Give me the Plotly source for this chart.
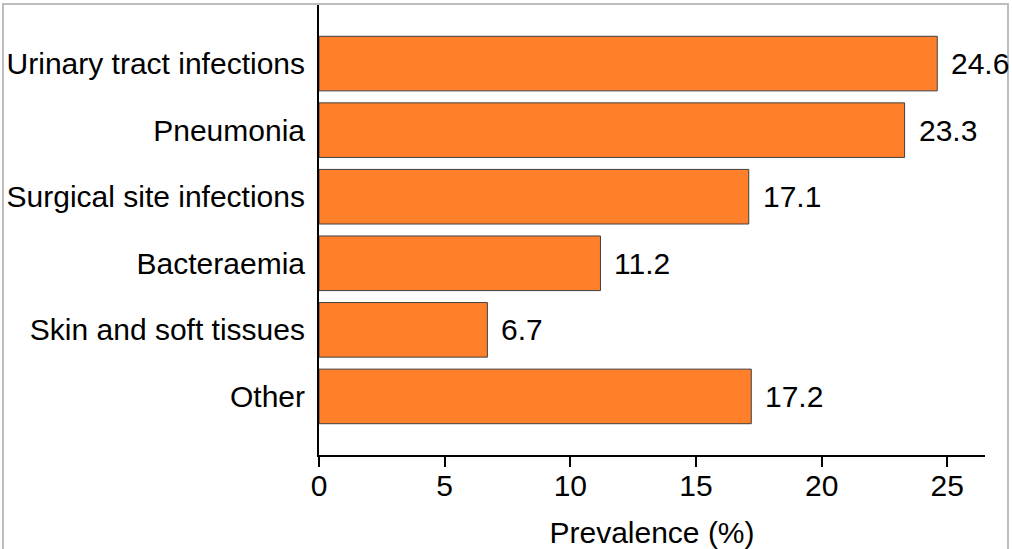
import plotly.graph_objects as go

categories = ["Urinary tract infections", "Pneumonia", "Surgical site infections",
              "Bacteraemia", "Skin and soft tissues", "Other"]
values = [24.6, 23.3, 17.1, 11.2, 6.7, 17.2]
value_labels = ["24.6", "23.3", "17.1", "11.2", "6.7", "17.2"]
x_ticks = [0, 5, 10, 15, 20, 25]

FONT = "Liberation Sans, Arial, sans-serif"
FS = 30

fig = go.Figure()
fig.add_trace(go.Bar(
    y=categories, x=values, orientation="h",
    marker=dict(color="#FF7F2A", line=dict(color="#404040", width=1)),
    width=0.82, hoverinfo="skip",
))

for c, v, t in zip(categories, values, value_labels):
    fig.add_annotation(x=v, y=c, text=t, showarrow=False, xanchor="left",
                       xshift=12, font=dict(family=FONT, size=FS, color="black"))

fig.add_shape(type="rect", xref="paper", yref="paper",
              x0=(3 - 319) / 666, x1=(1008 - 319) / 666,
              y0=-0.3, y1=(455 - 4) / 450,
              line=dict(color="#bdbdbd", width=2), layer="below")

fig.update_layout(
    width=1012, height=549,
    margin=dict(l=319, r=27, t=5, b=94),
    paper_bgcolor="white", plot_bgcolor="white",
    showlegend=False,
    font=dict(family=FONT, size=FS, color="black"),
    xaxis=dict(range=[0, 26.5], tickvals=x_ticks, ticks="outside", ticklen=10,
               tickwidth=1.5, tickcolor="black", showline=True, linecolor="black",
               linewidth=2, showgrid=False, zeroline=False, ticklabelstandoff=-7,
               automargin=False,
               tickfont=dict(family=FONT, size=FS, color="black"),
               title=dict(text="Prevalence (%)", standoff=24,
                          font=dict(family=FONT, size=FS, color="black"))),
    yaxis=dict(categoryorder="array", categoryarray=categories[::-1],
               range=[-0.88, 5.88], showline=True, linecolor="black", linewidth=2,
               ticks="", showgrid=False, zeroline=False, ticklabelstandoff=6,
               automargin=False,
               tickfont=dict(family=FONT, size=FS, color="black")),
)

fig.write_html("out.html", config={"displayModeBar": False},
               post_script="document.body.style.margin='0';")
